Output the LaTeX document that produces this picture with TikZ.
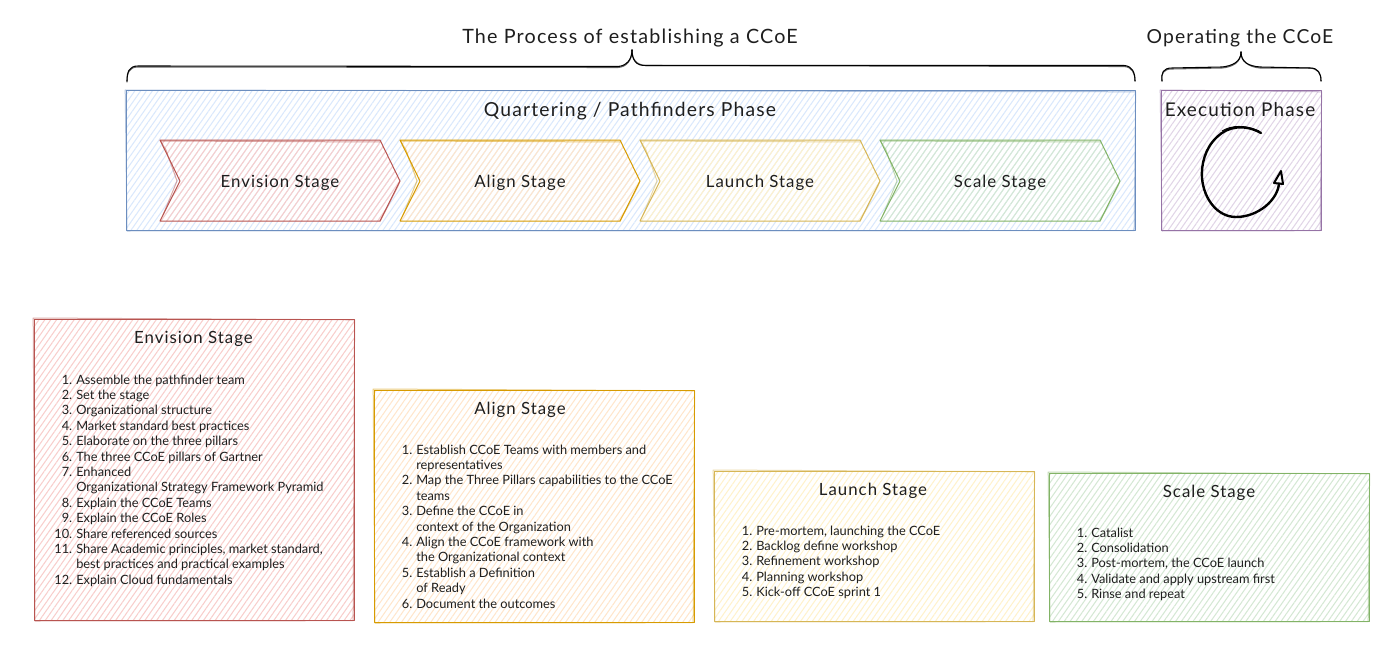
\documentclass[tikz,border=0pt]{standalone}
\usepackage{fontspec}
\setmainfont{Lato}
\usetikzlibrary{patterns.meta,calc}
\definecolor{inkc}{HTML}{1E1E1E}
\definecolor{bluel}{HTML}{6C8EBF}\definecolor{bluef}{HTML}{DAE8FC}
\definecolor{redl}{HTML}{B85450}\definecolor{redf}{HTML}{F8CECC}
\definecolor{orl}{HTML}{D79B00}\definecolor{orf}{HTML}{FFE6CC}
\definecolor{yel}{HTML}{D6B656}\definecolor{yef}{HTML}{FFF2CC}
\definecolor{grl}{HTML}{82B366}\definecolor{grf}{HTML}{D5E8D4}
\definecolor{pul}{HTML}{9673A6}\definecolor{puf}{HTML}{E1D5E7}
\tikzset{
  hatched/.style={pattern={Lines[angle=55,distance=3.6pt,line width=.8pt]},pattern color=#1},
  outline/.style={draw=#1,line width=.75pt,line join=round},
  ghost/.style={draw=#1,line width=.75pt,opacity=.5,line join=round},
  bigtext/.style={font=\fontsize{14.5}{18}\selectfont\addfontfeature{LetterSpace=6},text=inkc,inner sep=0pt},
  proctext/.style={font=\fontsize{14.8}{18}\selectfont\addfontfeature{LetterSpace=6},text=inkc,inner sep=0pt},
  midtext/.style={font=\fontsize{12.6}{16}\selectfont\addfontfeature{LetterSpace=6},text=inkc,inner sep=0pt},
  exectext/.style={font=\fontsize{14.2}{16}\selectfont\addfontfeature{LetterSpace=6},text=inkc,inner sep=0pt},
  listtext/.style={font=\fontsize{9.6}{11.55}\selectfont,text=inkc,inner sep=0pt,anchor=north west},
  bracepen/.style={draw=black,line width=.8pt,line cap=round,line join=round}
}
\newcommand{\sketchbox}[6]{%
  \fill[hatched=#6] (#1,#2) rectangle (#3,#4);
  \draw[ghost=#5] ($(#1,#2)+(-.8,-1)$) -- ($(#3,#2)+(.6,.8)$) -- ($(#3,#4)+(-.8,.7)$) -- ($(#1,#4)+(1,1)$) -- cycle;
  \draw[outline=#5] (#1,#2) rectangle (#3,#4);
}
\newcommand{\chevronshape}[3]{%
  \fill[hatched=#3] (#1,140) -- ({#1+220},140) -- ({#1+240},181) -- ({#1+220},221) -- (#1,221) -- ({#1+20},181) -- cycle;
  \draw[ghost=#2] (#1,140) -- ({#1+6},150) -- ({#1+17},181) -- ({#1+3},215);
  \draw[ghost=#2] ({#1+220},221.5) -- ({#1+238},186) -- ({#1+240},181);
  \draw[ghost=#2] (#1,141) -- ({#1+220},142);
  \draw[outline=#2] (#1,140) -- ({#1+220},140) -- ({#1+240},181) -- ({#1+220},221) -- (#1,221) -- ({#1+20},181) -- cycle;
}
\newcommand{\nr}[1]{\makebox[11.25pt][r]{#1}\hspace{3pt}}
\newcommand{\nn}{\hspace{14.25pt}}
\begin{document}
\begin{tikzpicture}[x=.75pt,y=-.75pt]
\useasboundingbox (0,0) rectangle (1400,660);
\sketchbox{126}{91}{1135}{230}{bluel}{bluef}
\sketchbox{1161}{91}{1321}{230}{pul}{puf}
\chevronshape{160}{redl}{redf}
\chevronshape{400}{orl}{orf}
\chevronshape{640}{yel}{yef}
\chevronshape{880}{grl}{grf}
\sketchbox{34}{319}{354}{620}{redl}{redf}
\sketchbox{374}{390}{694}{622}{orl}{orf}
\sketchbox{714}{471}{1034}{621}{yel}{yef}
\sketchbox{1049}{473}{1369}{621}{grl}{grf}
\foreach \dy/\op in {0/1,1/.6}{
\draw[bracepen,opacity=\op] (127,{81+\dy}) .. controls (127,{72+\dy}) and (129,{66+\dy}) .. (138,{66+\dy}) -- (618,{66.5+\dy}) .. controls (626,{66+\dy}) and (632,{60+\dy}) .. (632,50);
\draw[bracepen,opacity=\op] (632,50) .. controls (632,{60-\dy}) and (636,{66-\dy}) .. (646,{65.5}) -- (1124,{65.5+\dy}) .. controls (1132,{66+\dy}) and (1135,{72+\dy}) .. (1135,81);
\draw[bracepen,opacity=\op] (1162,81) .. controls (1161,{73+\dy}) and (1163,{68+\dy}) .. (1172,{68+\dy}) -- (1222,{67+\dy}) .. controls (1232,{66+\dy}) and (1241,{62+\dy}) .. (1241,52);
\draw[bracepen,opacity=\op] (1241,52) .. controls (1241,{62-\dy}) and (1248,{66+\dy}) .. (1260,{67+\dy}) -- (1310,{68}) .. controls (1318,{68+\dy}) and (1321,{73}) .. (1321,81);
}
\draw[draw=black,line width=1.8pt,line cap=round] (1261,133) .. controls (1245,124) and (1228,126) .. (1217,137) .. controls (1205,148) and (1201,165) .. (1202,178) .. controls (1204,200) and (1218,217) .. (1236,217) .. controls (1258,217) and (1278,200) .. (1279,183);
\draw[draw=black,line width=.8pt] (1259,131) .. controls (1245,125) and (1232,125) .. (1222,131);
\draw[draw=black,line width=1.5pt,line join=round,fill=white,fill opacity=.6] (1281,171) -- (1274,183) -- (1283,184) -- cycle;
\node[proctext] (tprocess) at (630,38) {The Process of establishing a CCoE};
\node[bigtext] (toperating) at (1240,38) {Operating the CCoE};
\node[bigtext] (tquarter) at (630,111) {Quartering / Pathfinders Phase};
\node[exectext] (texec) at (1240,110) {Execution Phase};
\node[midtext] (senv) at (280,183) {Envision Stage};
\node[midtext] (sali) at (520,183) {Align Stage};
\node[midtext] (slau) at (760,183) {Launch Stage};
\node[midtext] (ssca) at (1000,183) {Scale Stage};
\node[midtext] (tenv) at (193.5,339) {Envision Stage};
\node[midtext] (tali) at (520,410) {Align Stage};
\node[midtext] (tlau) at (873,491) {Launch Stage};
\node[midtext] (tsca) at (1209,493) {Scale Stage};
\node[listtext] (lenv) at (57,373) {\begin{tabular}{@{}l@{}}
\nr{1.}Assemble the pathfinder team\\
\nr{2.}Set the stage\\
\nr{3.}Organizational structure\\
\nr{4.}Market standard best practices\\
\nr{5.}Elaborate on the three pillars\\
\nr{6.}The three CCoE pillars of Gartner\\
\nr{7.}Enhanced\\
\nn Organizational Strategy Framework Pyramid\\
\nr{8.}Explain the CCoE Teams\\
\nr{9.}Explain the CCoE Roles\\
\nr{10.}Share referenced sources\\
\nr{11.}Share Academic principles, market standard,\\
\nn best practices and practical examples\\
\nr{12.}Explain Cloud fundamentals
\end{tabular}};
\node[listtext] (lali) at (397,443) {\begin{tabular}{@{}l@{}}
\nr{1.}Establish CCoE Teams with members and\\
\nn representatives\\
\nr{2.}Map the Three Pillars capabilities to the CCoE\\
\nn teams\\
\nr{3.}Define the CCoE in\\
\nn context of the Organization\\
\nr{4.}Align the CCoE framework with\\
\nn the Organizational context\\
\nr{5.}Establish a Definition\\
\nn of Ready\\
\nr{6.}Document the outcomes
\end{tabular}};
\node[listtext] (llau) at (737,524) {\begin{tabular}{@{}l@{}}
\nr{1.}Pre-mortem, launching the CCoE\\
\nr{2.}Backlog define workshop\\
\nr{3.}Refinement workshop\\
\nr{4.}Planning workshop\\
\nr{5.}Kick-off CCoE sprint 1
\end{tabular}};
\node[listtext] (lsca) at (1072,526) {\begin{tabular}{@{}l@{}}
\nr{1.}Catalist\\
\nr{2.}Consolidation\\
\nr{3.}Post-mortem, the CCoE launch\\
\nr{4.}Validate and apply upstream first\\
\nr{5.}Rinse and repeat
\end{tabular}};
\end{tikzpicture}
\end{document}
